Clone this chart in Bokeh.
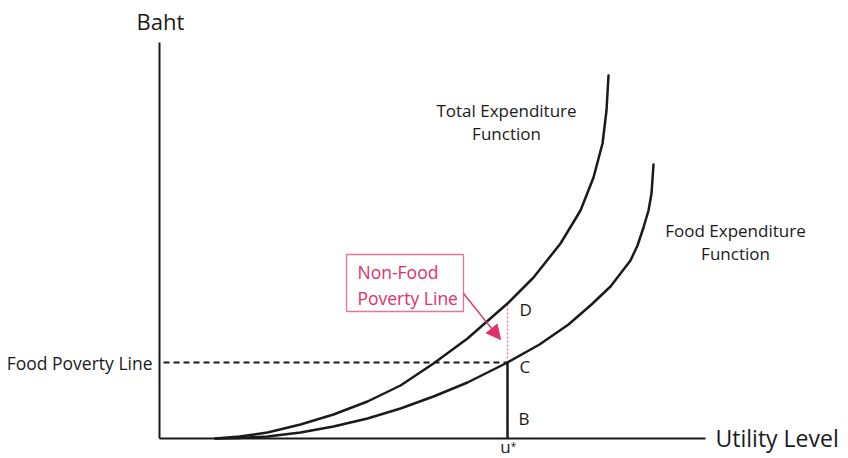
from bokeh.plotting import figure
from bokeh.models import Range1d, Arrow, NormalHead
from bokeh.core.properties import value
from bokeh.embed import file_html
from bokeh.resources import INLINE

# Curves: (utility level, baht), origin at the axes corner
total_u = [56, 80, 108, 141, 174, 208, 241, 274, 308, 348, 374, 401, 421, 434, 443, 447, 449]
total_b = [0, 2, 6, 14, 24, 37, 53, 75, 100, 135, 161, 195, 228, 261, 295, 328, 363]
food_u = [56, 80, 108, 141, 174, 208, 241, 274, 308, 348, 380, 409, 432, 451, 471, 478, 484, 489, 492, 494]
food_b = [0, 0.5, 2, 6, 12, 20, 30, 42, 56, 76, 94, 114, 134, 152, 178, 193, 211, 228, 245, 274]

u_star = 348          # utility level u*
food_line = 76        # food poverty line (point C)
point_d = 133         # total expenditure at u* (point D)
axis_x_end = 546
axis_y_end = 396
dash_start = 4

# Non-food poverty line call-out
box_left, box_right, box_bottom, box_top = 187, 304, 127, 184
arrow_start = (304, 145)
arrow_end = (341, 99)

# Labels
black_texts = ["Baht", "Total Expenditure", "Function", "Food Expenditure", "Function", "D", "C", "B"]
black_x = [1, 347, 347, 576, 576, 360, 360, 359]
black_y = [418, 328, 305, 208, 185, 129, 72, 20]
black_size = ["22px", "17px", "17px", "17px", "17px", "17px", "17px", "17px"]
black_align = ["center", "center", "center", "center", "center", "left", "left", "left"]

pink_texts = ["Non-Food", "Poverty Line"]
pink_x = [198, 198]
pink_y = [167, 141]

PINK = "#E0306A"
PINK_LIGHT = "#E8739A"
INK = "#1a1a1a"
FONT = "Open Sans"

p = figure(width=848, height=458,
           x_range=Range1d(-159, 689), y_range=Range1d(-20, 438),
           x_axis_type=None, y_axis_type=None,
           output_backend="svg", toolbar_location=None,
           min_border=0, min_border_left=0, min_border_right=0,
           min_border_top=0, min_border_bottom=0,
           outline_line_color=None, background_fill_color="white",
           border_fill_color="white")
p.grid.visible = False

# axes
p.line([0, axis_x_end], [0, 0], line_color=INK, line_width=2)
p.line([0, 0], [0, axis_y_end], line_color=INK, line_width=2)

# food poverty line (dashed) and u* vertical
p.line([dash_start, u_star], [food_line, food_line], line_color=INK, line_width=2, line_dash="6 4")
p.line([u_star, u_star], [0, food_line], line_color=INK, line_width=2.5)
p.line([u_star, u_star], [food_line, point_d], line_color=PINK_LIGHT, line_width=1.3, line_dash="2 2")

# curves
p.line(total_u, total_b, line_color=INK, line_width=2.5, line_join="round", line_cap="round")
p.line(food_u, food_b, line_color=INK, line_width=2.5, line_join="round", line_cap="round")

# call-out box and arrow
p.quad(left=[box_left], right=[box_right], bottom=[box_bottom], top=[box_top],
       fill_color="white", line_color=PINK_LIGHT, line_width=1.3)
p.add_layout(Arrow(end=NormalHead(size=14, fill_color=PINK, line_color=PINK),
                   x_start=arrow_start[0], y_start=arrow_start[1],
                   x_end=arrow_end[0], y_end=arrow_end[1],
                   line_color=PINK, line_width=1.3))

p.text(x=pink_x, y=pink_y, text=pink_texts, text_font=value(FONT), text_font_size="17.5px",
       text_color=PINK, text_align="left", text_baseline="middle")

for t, x, y, s, a in zip(black_texts, black_x, black_y, black_size, black_align):
    p.text(x=[x], y=[y], text=[t], text_font=value(FONT), text_font_size=s,
           text_color=INK, text_align=a, text_baseline="middle")

# u* label under the axis
p.text(x=[346], y=[-19.5], text=["u"], text_font=value(FONT), text_font_size="17px",
       text_color=INK, text_align="center", text_baseline="bottom")
p.text(x=[354], y=[-7], text=["*"], text_font=value(FONT), text_font_size="10px",
       text_color=INK, text_align="center", text_baseline="middle")

# axis-side labels
p.text(x=[-7], y=[food_line], text=["Food Poverty Line"], text_font=value(FONT),
       text_font_size="17.5px", text_color=INK, text_align="right", text_baseline="middle")
p.text(x=[556], y=[1], text=["Utility Level"], text_font=value(FONT),
       text_font_size="23px", text_color=INK, text_align="left", text_baseline="middle")

open("out.html", "w").write(file_html(p, INLINE))
